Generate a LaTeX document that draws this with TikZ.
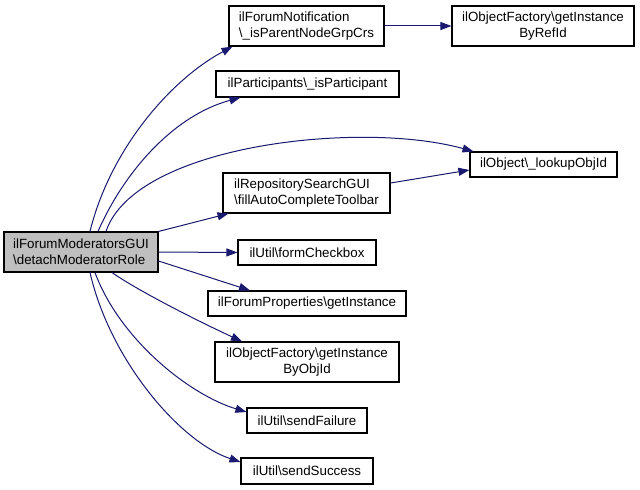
\documentclass[tikz,border=0pt]{standalone}
\usepackage{fontspec}
\setmainfont{Liberation Sans}
\usetikzlibrary{arrows.meta}
\definecolor{edgeblue}{HTML}{191970}
\definecolor{maingray}{HTML}{BFBFBF}
\begin{document}
\begin{tikzpicture}[x=1bp,y=-1bp,
  box/.style={draw=black,line width=1.1bp,inner sep=0pt,align=left,
    font=\fontsize{13.4}{16}\selectfont},
  cbox/.style={box,align=center},
  edge/.style={draw=edgeblue,line width=1bp,-{Triangle[length=11bp,width=8bp]}}]
\useasboundingbox (0,0) rectangle (640,490);
\node[box,fill=maingray,minimum width=154bp,minimum height=40bp] (main) at (81,252) {ilForumModeratorsGUI\\\textbackslash detachModeratorRole};
\node[box,minimum width=155bp,minimum height=40bp] (notif) at (306.5,26) {ilForumNotification\\\textbackslash \_isParentNodeGrpCrs};
\node[cbox,minimum width=182bp,minimum height=40bp] (refid) at (543,26) {ilObjectFactory\textbackslash getInstance\\ByRefId};
\node[box,minimum width=183bp,minimum height=26bp] (part) at (307.5,84) {ilParticipants\textbackslash \_isParticipant};
\node[box,minimum width=147bp,minimum height=25bp] (obj) at (543.5,164.5) {ilObject\textbackslash \_lookupObjId};
\node[box,minimum width=167bp,minimum height=40bp] (repo) at (306.5,193) {ilRepositorySearchGUI\\\textbackslash fillAutoCompleteToolbar};
\node[box,minimum width=138bp,minimum height=25bp] (check) at (307,252.5) {ilUtil\textbackslash formCheckbox};
\node[box,minimum width=198bp,minimum height=25bp] (props) at (307,303.5) {ilForumProperties\textbackslash getInstance};
\node[cbox,minimum width=184bp,minimum height=40bp] (objid) at (307,362) {ilObjectFactory\textbackslash getInstance\\ByObjId};
\node[box,minimum width=120bp,minimum height=25bp] (fail) at (307,420.5) {ilUtil\textbackslash sendFailure};
\node[box,minimum width=132bp,minimum height=26bp] (succ) at (307,471) {ilUtil\textbackslash sendSuccess};

\draw[edge] ([xshift=9bp]main.north) .. controls (110,150) and (170,80) .. ([xshift=-74bp]notif.south);
\draw[edge] ([xshift=17bp]main.north) .. controls (125,170) and (175,115) .. ([xshift=-67bp]part.south);
\draw[edge] ([xshift=25bp]main.north) .. controls (135,145) and (360,120) .. ([xshift=-70bp]obj.north);
\draw[edge] (main.north east) -- ([xshift=-78bp]repo.south);
\draw[edge] ([yshift=10bp]repo.east) -- ([yshift=-5.5bp]obj.west);
\draw[edge] (notif.east) -- (refid.west);
\draw[edge] (main.east) -- (check.west);
\draw[edge] ([yshift=-9bp]main.east) -- ([xshift=-57bp]props.north);
\draw[edge] ([xshift=31bp]main.south) .. controls (140,292) and (200,322) .. ([xshift=-65bp]objid.north);
\draw[edge] ([xshift=14bp]main.south) .. controls (120,340) and (190,395) .. ([yshift=8.5bp]fail.west);
\draw[edge] ([xshift=9bp]main.south) .. controls (110,360) and (180,442) .. ([yshift=9bp]succ.west);
\end{tikzpicture}
\end{document}
